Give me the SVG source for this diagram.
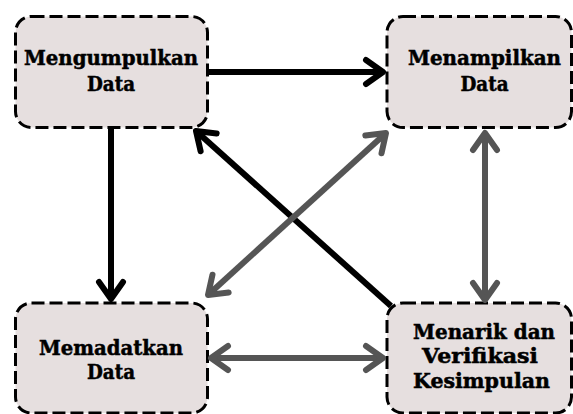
<svg xmlns="http://www.w3.org/2000/svg" width="573" height="414" viewBox="0 0 573 414">
<style>
.node rect{fill:#e6dfdf;stroke:#000;stroke-width:3;stroke-dasharray:13 5}
.node text{font-family:"DejaVu Serif",serif;font-weight:bold;font-size:20px;fill:#000;stroke:#000;stroke-width:0.5;text-anchor:middle}
.c{fill:none;stroke-width:6}
.k{stroke:#000}
.g{stroke:#555}
</style>
<defs>
<marker id="mk" markerUnits="userSpaceOnUse" orient="auto-start-reverse" refX="0" refY="0" markerWidth="40" markerHeight="40" overflow="visible">
<path d="M-17,-12 L0,0 L-17,12" fill="none" stroke="#000" stroke-width="6" stroke-linecap="round" stroke-linejoin="round"/>
</marker>
<marker id="mg" markerUnits="userSpaceOnUse" orient="auto-start-reverse" refX="0" refY="0" markerWidth="40" markerHeight="40" overflow="visible">
<path d="M-17,-12 L0,0 L-17,12" fill="none" stroke="#555" stroke-width="6" stroke-linecap="round" stroke-linejoin="round"/>
</marker>
</defs>
<g id="n1" class="node"><rect x="15.5" y="16.5" width="192" height="111" rx="16"/><text x="111" y="65" textLength="174" lengthAdjust="spacingAndGlyphs">Mengumpulkan</text><text x="111" y="91" textLength="48" lengthAdjust="spacingAndGlyphs">Data</text></g>
<g id="n2" class="node"><rect x="387" y="16.5" width="184.5" height="111" rx="16"/><text x="484.5" y="65" textLength="153" lengthAdjust="spacingAndGlyphs">Menampilkan</text><text x="484.5" y="91" textLength="48" lengthAdjust="spacingAndGlyphs">Data</text></g>
<g id="n3" class="node"><rect x="15.5" y="303" width="192" height="110" rx="16"/><text x="111" y="355" textLength="144" lengthAdjust="spacingAndGlyphs">Memadatkan</text><text x="111" y="379" textLength="48" lengthAdjust="spacingAndGlyphs">Data</text></g>
<g id="n4" class="node"><rect x="387" y="303" width="184.5" height="110" rx="16"/><text x="484" y="339" textLength="142" lengthAdjust="spacingAndGlyphs">Menarik dan</text><text x="480" y="363" textLength="116" lengthAdjust="spacingAndGlyphs">Verifikasi</text><text x="481.5" y="388" textLength="137" lengthAdjust="spacingAndGlyphs">Kesimpulan</text></g>
<g id="connectors">
<line class="c k" x1="209" y1="72" x2="383" y2="72" marker-end="url(#mk)"/>
<line class="c k" x1="111" y1="129" x2="111" y2="299" marker-end="url(#mk)"/>
<line class="c k" x1="391" y1="306" x2="196" y2="131" marker-end="url(#mk)"/>
<line class="c g" x1="208" y1="295" x2="386" y2="133" marker-start="url(#mg)" marker-end="url(#mg)"/>
<line class="c g" x1="485" y1="133" x2="485" y2="300" marker-start="url(#mg)" marker-end="url(#mg)"/>
<line class="c g" x1="211" y1="358" x2="383" y2="358" marker-start="url(#mg)" marker-end="url(#mg)"/>
</g>
</svg>
